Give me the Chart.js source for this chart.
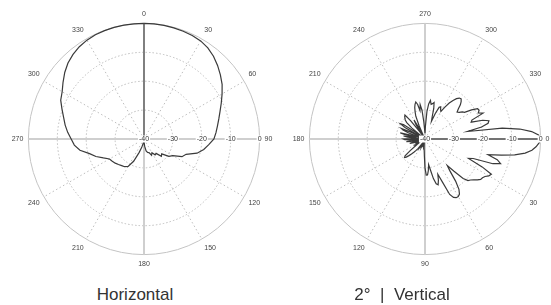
<!DOCTYPE html>
<html>
<head>
<meta charset="utf-8">
<script src="https://cdn.jsdelivr.net/npm/chart.js@4/dist/chart.umd.min.js"></script>
<style>
  html, body { margin: 0; padding: 0; width: 551px; height: 305px; overflow: hidden; background: #fff; }
  .plot { position: absolute; top: 10px; width: 286px; height: 258px; }
  .caption { position: absolute; top: 285px; width: 200px; text-align: center; font: 17px "Liberation Sans", Arial, sans-serif; color: #333; line-height: 20px; white-space: pre; }
</style>
</head>
<body>
<div class="plot" style="left:0"><canvas id="hChart"></canvas></div>
<div class="plot" style="left:281px"><canvas id="vChart"></canvas></div>
<div class="caption" style="left:35px">Horizontal</div>
<div class="caption" style="left:302px">2°  |  Vertical</div>
<script>
// Relative gain in dB
const dbTicks = [-40, -30, -20, -10, 0];
const angleMarks = [0, 30, 60, 90, 120, 150, 180, 210, 240, 270, 300, 330];

// horizontal cut, one sample every 5 degrees (0 at top, clockwise)
const hAngles = Array.from({length: 72}, (_, i) => i * 5);
const hGain = [
    0, 0, -0.1, -0.2, -0.3, -0.5, -0.8, -1.5, -2.6, -4,                   // 0-45
    -5.5, -7, -8.8, -10.5, -12, -13.2, -14.2, -15, -15.8, -17.5,          // 50-95
    -19, -21, -24.5, -25.5, -28.5, -29.5, -32, -31.5, -33.5, -33.3,       // 100-145
    -34.5, -33.8, -35, -35.2, -35.8, -37.5, -39, -39, -38.5, -37,         // 150-195
    -35, -31.5, -29, -28.3, -28, -27.5, -27, -26.6, -26.2, -24.5,         // 200-245
    -22.3, -20.5, -17.5, -15.8, -14.8, -13.5, -12.3, -11.2, -9.8, -8.2,   // 250-295
    -7.3, -5.8, -4.2, -2.8, -1.8, -1, -0.5, -0.2, -0.1, 0,                // 300-345
    0, 0                                                                  // 350-355
];

// vertical cut at 2 deg tilt, one sample every 2 degrees (0 at right, clockwise)
const vAngles = Array.from({length: 180}, (_, i) => i * 2);
const vGain = [
    0, -0.5, -1.5, -2.8, -5, -8.5, -13, -17.5, -14, -12.5,                // 0-18
    -15, -22, -23.5, -18, -14, -14.5, -15.5, -16, -16.2, -17,             // 20-38
    -18, -18.8, -19.3, -21, -25, -28, -26, -22, -19, -17.5,               // 40-58
    -17, -17, -17.5, -19, -24, -27, -25, -23.5, -24, -26,                 // 60-78
    -29, -31, -29, -27.5, -27.5, -30, -34, -36, -37, -38,                 // 80-98
    -37.5, -38, -37, -38, -38.5, -37.5, -38, -37, -37.5, -38,             // 100-118
    -37, -36.5, -37.5, -36, -35, -34, -33, -32, -31, -30.5,               // 120-138
    -31, -33.5, -36, -37, -36.5, -37.5, -38, -37, -37.5, -36.5,           // 140-158
    -38, -36, -34.5, -37, -39, -35, -33.5, -38, -36, -33,                 // 160-178
    -32.5, -36, -39, -34, -32.5, -37, -33, -31.2, -36, -39,               // 180-198
    -34, -31.8, -31, -35, -38, -32, -30, -31, -36, -39,                   // 200-218
    -34, -31.5, -30.5, -30, -29.5, -29.2, -32, -37, -39, -34,             // 220-238
    -32.4, -36, -39, -35, -31.5, -30, -28.5, -27.5, -26.8, -27.8,         // 240-258
    -30, -28, -30, -34, -37, -38, -35.5, -30.5, -27.8, -26.5,             // 260-278
    -27.8, -27.5, -27, -29, -32, -33.5, -30.5, -28, -27.6, -28.5,         // 280-298
    -29, -27, -25, -23.5, -22.3, -21.5, -21.3, -22, -23, -24.5,           // 300-318
    -25.5, -25, -24, -23.5, -21, -19, -18.8, -19.5, -18, -22.5,           // 320-338
    -23, -19, -17, -17.5, -20, -25, -13, -7, -3, -0.7                     // 340-358
];

const labelFont = '"Liberation Sans", Arial, sans-serif';

// lead line from the centre to the first sample, and horizontal dB labels
const patternExtras = {
    id: 'patternExtras',
    afterDatasetsDraw(chart, args, opts) {
        const r = chart.scales.r;
        const ctx = chart.ctx;
        const first = chart.getDatasetMeta(0).data[0];
        ctx.save();
        ctx.strokeStyle = '#555';
        ctx.lineWidth = 1.3;
        ctx.beginPath();
        ctx.moveTo(r.xCenter, r.yCenter);
        ctx.lineTo(first.x, first.y);
        ctx.stroke();

        ctx.font = '7px ' + labelFont;
        ctx.textAlign = 'center';
        ctx.textBaseline = 'middle';
        dbTicks.forEach(v => {
            const p = r.getPointPositionForValue(opts.tickIndex, v);
            const w = ctx.measureText(String(v)).width;
            ctx.fillStyle = '#fff';
            ctx.fillRect(p.x - w / 2 - 1, p.y - 3.5, w + 2, 7);
            ctx.fillStyle = '#333';
            ctx.fillText(String(v), p.x, p.y);
        });
        ctx.restore();
    }
};

function makePattern(id, angles, gain, startAngle, tickIndex) {
    return new Chart(document.getElementById(id), {
        type: 'radar',
        data: {
            labels: angles,
            datasets: [{
                data: gain,
                borderColor: '#3a3a3a',
                borderWidth: 1.2,
                pointRadius: 0,
                fill: false
            }]
        },
        options: {
            responsive: true,
            maintainAspectRatio: false,
            animation: false,
            plugins: {
                legend: { display: false },
                tooltip: { enabled: false },
                patternExtras: { tickIndex: tickIndex }
            },
            scales: {
                r: {
                    min: -40,
                    max: 0,
                    startAngle: startAngle,
                    ticks: { display: false, stepSize: 10 },
                    grid: {
                        circular: true,
                        color: c => c.tick && c.tick.value === 0 ? '#c4c4c4' : '#bdbdbd',
                        lineWidth: 1
                    },
                    border: {
                        dash: c => c.tick && c.tick.value === 0 ? [] : [1.5, 2]
                    },
                    angleLines: {
                        color: c => angles[c.index] % 90 === 0 ? '#cfcfcf' : '#bdbdbd',
                        lineWidth: c => angles[c.index] % 90 === 0 ? 2 : (angles[c.index] % 30 === 0 ? 1 : 0),
                        borderDash: c => angles[c.index] % 90 === 0 ? [] : [1.5, 2.5]
                    },
                    pointLabels: {
                        font: { size: 7, family: labelFont },
                        color: '#444',
                        padding: 5,
                        callback: label => angleMarks.includes(label) ? String(label) : ''
                    }
                }
            }
        },
        plugins: [patternExtras]
    });
}

makePattern('hChart', hAngles, hGain, 0, hAngles.indexOf(90));
makePattern('vChart', vAngles, vGain, 90, 0);
</script>
</body>
</html>
